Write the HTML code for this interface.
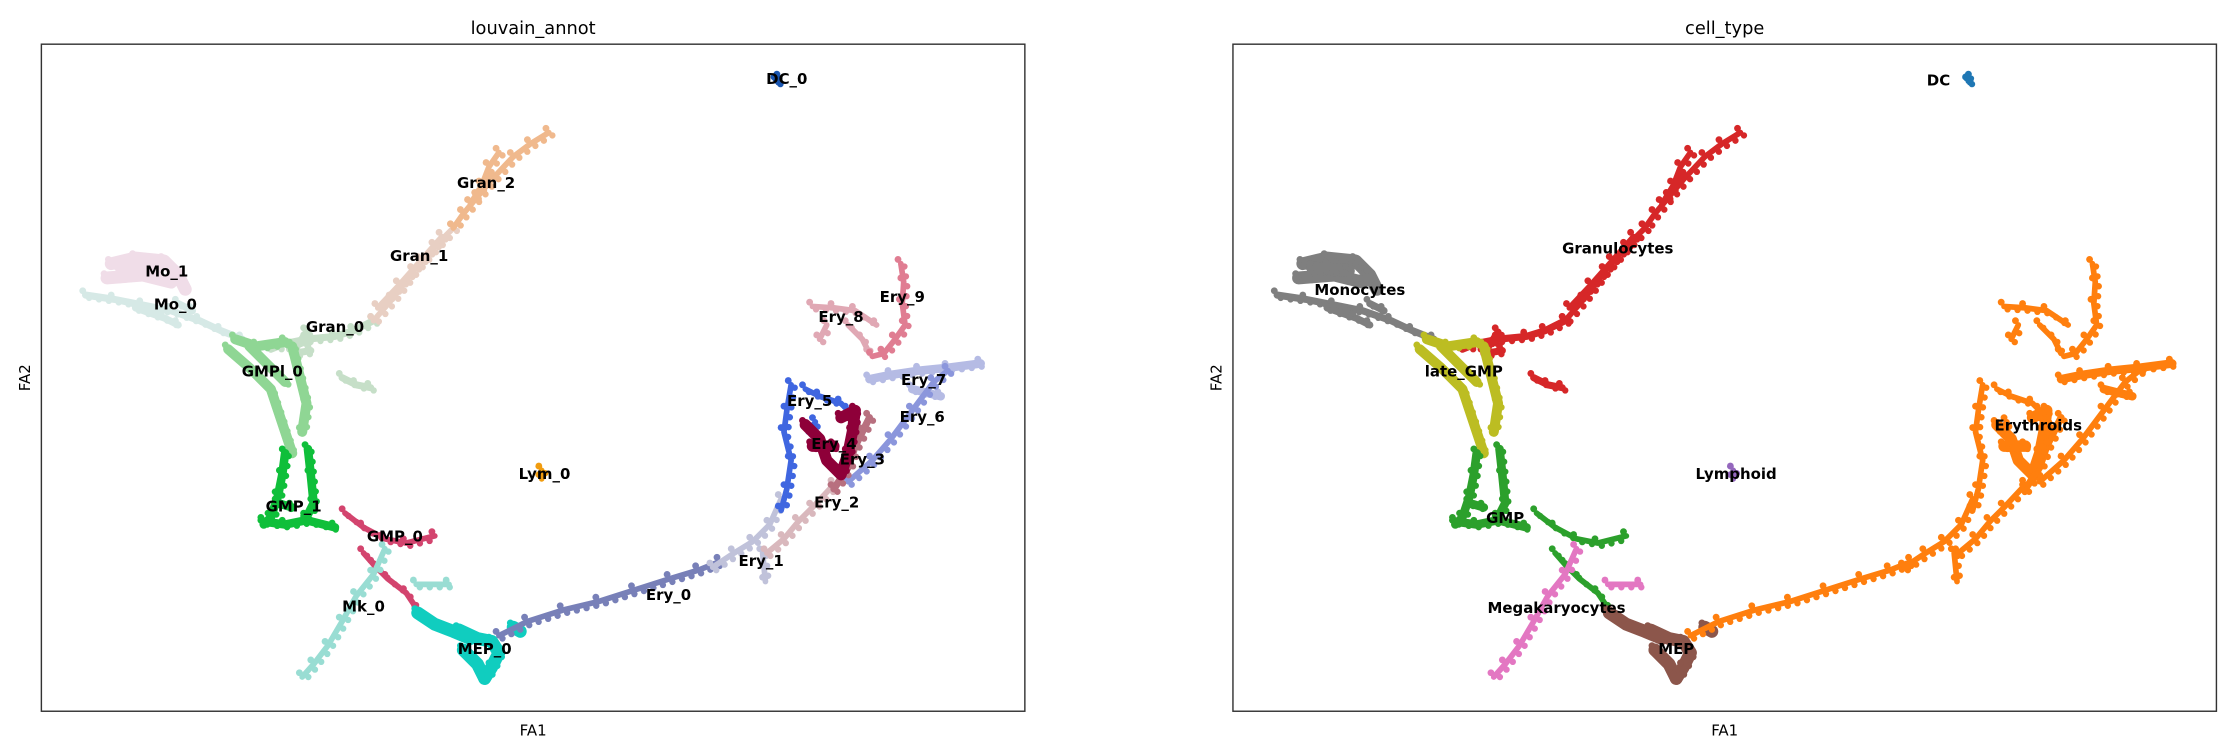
<!DOCTYPE html>
<html><head><meta charset="utf-8"><style>
html,body{margin:0;padding:0;background:#fff;}
svg{display:block;font-family:"DejaVu Sans","Liberation Sans",sans-serif;}
</style></head><body>
<svg id="chart" width="2235" height="752" viewBox="0 0 1568 527.6" xmlns="http://www.w3.org/2000/svg">
<g>
<text x="374" y="24" font-size="12.5" text-anchor="middle">louvain_annot</text>
<text x="374" y="516" font-size="10.5" text-anchor="middle">FA1</text>
<text x="21" y="265" font-size="10.5" text-anchor="middle" transform="rotate(-90 21 265)">FA2</text>
<g id="marksL"></g>
<g id="labelsL"></g>
<rect x="29" y="31" width="690" height="468" fill="none" stroke="#333" stroke-width="1"/>
</g>
<g>
<text x="1210" y="24" font-size="12.5" text-anchor="middle">cell_type</text>
<text x="1210" y="516" font-size="10.5" text-anchor="middle">FA1</text>
<text x="857" y="265" font-size="10.5" text-anchor="middle" transform="rotate(-90 857 265)">FA2</text>
<g id="marksR"></g>
<g id="labelsR"></g>
<rect x="865" y="31" width="690" height="468" fill="none" stroke="#333" stroke-width="1"/>
</g>
</svg>
<script>
// Embedding domain (FA units)
const fa1Domain = [29, 719];
const fa2Domain = [29, 497];
// louvain clusters, each a list of traced cell tracks [FA1, FA2]
const clusterNames = ["Mo_1","Mo_0","Gran_0","Gran_1","Gran_2","GMPl_0","GMP_1","GMP_0","Mk_0","MEP_0","Ery_0","Ery_1","Ery_2","Ery_8","Ery_9","Ery_7","Ery_6","Ery_5","Ery_3","Ery_4","Lym_0","DC_0"];
const clusterTracks = {
 "DC_0":[[[545,471],[547,473],[546,470]]],
 "Gran_2":[[[385,435],[372,427],[360,418],[345,402],[335,390],[325,378],[318,368]],[[350,421],[343,411],[338,398],[330,385]]],
 "Gran_1":[[[318,368],[305,355],[290,338],[275,318],[262,303]],[[310,362],[295,345],[280,328],[265,312]]],
 "Gran_0":[[[262,303],[248,296],[235,292],[215,290],[200,287],[190,283]],[[240,263],[250,258],[260,256]],[[215,295],[205,280],[218,282]]],
 "Mo_1":[[[78,343],[95,347],[115,345],[125,335],[130,325]],[[75,333],[100,335],[120,330]],[[85,340],[110,338]]],
 "Mo_0":[[[60,321],[80,318],[100,314],[120,310],[140,303],[155,296],[170,290]],[[125,315],[135,310]],[[95,312],[115,305],[125,300]]],
 "GMPl_0":[[[165,290],[180,285],[200,288]],[[160,283],[175,270],[190,255],[195,240],[200,225],[205,210]],[[205,285],[210,265],[215,245],[212,225]],[[175,285],[190,270],[200,260]]],
 "GMP_1":[[[200,210],[198,195],[195,180],[190,165],[185,160]],[[216,213],[218,195],[220,175],[215,165]],[[185,162],[200,160],[215,163],[235,158]],[[195,175],[205,172]]],
 "GMP_0":[[[242,168],[255,158],[270,150],[285,147],[305,152]],[[255,140],[262,132],[272,122],[285,112],[293,100]]],
 "Mk_0":[[[270,143],[262,125],[250,110],[240,92],[230,75],[220,62],[212,53]],[[292,118],[315,118]]],
 "MEP_0":[[[293,98],[305,90],[318,85],[330,80]],[[322,86],[335,80],[345,78],[350,70],[345,60],[340,52]],[[325,72],[335,62],[340,52]],[[360,88],[365,85]]],
 "Ery_0":[[[350,82],[370,92],[395,100],[420,106],[445,114],[470,122],[490,128],[505,134]]],
 "Ery_1":[[[500,130],[515,140],[528,148],[540,160],[548,178]],[[535,140],[537,120]]],
 "Ery_2":[[[538,140],[550,150],[560,162],[570,172],[585,188]]],
 "Ery_3":[[[585,185],[595,200],[600,215],[605,225],[610,235]]],
 "Ery_4":[[[565,230],[575,220],[580,205],[590,195],[595,210],[598,225],[600,240],[590,235]],[[570,215],[585,215]]],
 "Ery_5":[[[555,258],[552,240],[550,225],[555,205],[552,185],[548,170]],[[565,255],[575,250],[590,245],[595,240]],[[567,225],[572,232]]],
 "Ery_6":[[[595,190],[612,205],[625,220],[640,240],[655,260],[665,268]]],
 "Ery_7":[[[610,262],[625,265],[645,268],[665,270],[688,273]],[[640,255],[660,250]]],
 "Ery_8":[[[570,313],[585,312],[600,310],[615,300]],[[575,290],[580,300]],[[595,300],[605,290],[610,280]]],
 "Ery_9":[[[632,343],[634,330],[633,315],[635,300],[628,290],[620,280],[612,278]]],
 "Lym_0":[[[380,198],[380,192]]]
};
const clusterColors = {"DC_0":"#1a56b0","Gran_2":"#f0b98d","Gran_1":"#e8cfc3","Gran_0":"#c6dfc8","Mo_1":"#f0dde8","Mo_0":"#d6e9e6","GMPl_0":"#8fd694","GMP_1":"#0fbf3a","GMP_0":"#d3446e","Mk_0":"#99ddd3","MEP_0":"#10cdbf","Ery_0":"#7880b8","Ery_1":"#c0c2da","Ery_2":"#d9b8bd","Ery_3":"#b8707f","Ery_4":"#8e0039","Ery_5":"#3f66e0","Ery_6":"#8b96dc","Ery_7":"#b5bbe4","Ery_8":"#e0a8b4","Ery_9":"#e07d92","Lym_0":"#f19c0f"};
const clusterCellType = {"DC_0":"DC","Gran_2":"Granulocytes","Gran_1":"Granulocytes","Gran_0":"Granulocytes","Mo_1":"Monocytes","Mo_0":"Monocytes","GMPl_0":"late_GMP","GMP_1":"GMP","GMP_0":"GMP","Mk_0":"Megakaryocytes","MEP_0":"MEP","Ery_0":"Erythroids","Ery_1":"Erythroids","Ery_2":"Erythroids","Ery_3":"Erythroids","Ery_4":"Erythroids","Ery_5":"Erythroids","Ery_6":"Erythroids","Ery_7":"Erythroids","Ery_8":"Erythroids","Ery_9":"Erythroids","Lym_0":"Lymphoid"};
const cellTypeColors = {"DC":"#1f77b4","Granulocytes":"#d62728","Monocytes":"#7f7f7f","late_GMP":"#bcbd22","GMP":"#2ca02c","Megakaryocytes":"#e377c2","MEP":"#8c564b","Erythroids":"#ff7f0e","Lymphoid":"#9467bd"};
const clusterWidths = {"Mo_1":9,"GMPl_0":7,"MEP_0":9,"Ery_4":8,"Ery_7":6,"GMP_1":6,"Gran_0":5,"Mo_0":5,"Ery_3":5};
// labels [name, FA1, FA2]
const louvainLabels = [["DC_0",552,473],["Gran_2",341,400],["Gran_1",294,349],["Mo_1",117,338],["Mo_0",123,315],["Gran_0",235,299],["GMPl_0",191,268],["Lym_0",382,196],["GMP_1",206,173],["GMP_0",277,152],["Ery_9",633,320],["Ery_8",590,306],["Ery_7",648,262],["Ery_5",568,247],["Ery_6",647,236],["Ery_4",585,217],["Ery_3",605,206],["Ery_2",587,176],["Ery_1",534,135],["Ery_0",469,111],["Mk_0",255,103],["MEP_0",340,73]];
const cellTypeLabels = [["DC",524,472],["Granulocytes",299,354],["Monocytes",118,325],["late_GMP",191,268],["Erythroids",594,230],["Lymphoid",382,196],["GMP",220,165],["Megakaryocytes",256,102],["MEP",340,73]];

const NS="http://www.w3.org/2000/svg";
function xs(v, ox){ return ox + (v - fa1Domain[0]) / (fa1Domain[1]-fa1Domain[0]) * 690; }
function ys(v){ return 499 - (v - fa2Domain[0]) / (fa2Domain[1]-fa2Domain[0]) * 468; }
function draw(gid, ox, colorOf){
  const g=document.getElementById(gid);
  clusterNames.forEach(name=>{
    const w = clusterWidths[name] || 4;
    clusterTracks[name].forEach(tr=>{
      const pts = tr.map(p=>xs(p[0],ox).toFixed(1)+","+ys(p[1]).toFixed(1)).join(" ");
      const pl=document.createElementNS(NS,"polyline");
      
      
      pl.setAttribute("points", tr.length>1?pts:pts+" "+pts);
      pl.setAttribute("fill","none");
      pl.setAttribute("stroke",colorOf(name));
      pl.setAttribute("stroke-width",w);
      pl.setAttribute("stroke-linecap","round");
      pl.setAttribute("stroke-linejoin","round");
      g.appendChild(pl);
      const dl=document.createElementNS(NS,"polyline");
      
      
      dl.setAttribute("points", tr.map(p=>xs(p[0]+2.5,ox).toFixed(1)+","+ys(p[1]-2).toFixed(1)).join(" "));
      dl.setAttribute("fill","none");
      dl.setAttribute("stroke",colorOf(name));
      dl.setAttribute("stroke-width",4.5);
      dl.setAttribute("stroke-linecap","round");
      dl.setAttribute("stroke-dasharray","0 7");
      g.appendChild(dl);
      tr.forEach(p=>{
        const c=document.createElementNS(NS,"circle");
        
        
        c.setAttribute("cx",xs(p[0]-2,ox)); c.setAttribute("cy",ys(p[1]+3));
        c.setAttribute("r",2.4); c.setAttribute("fill",colorOf(name));
        g.appendChild(c);
      });
    });
  });
}
function labels(gid, ox, arr){
  const g=document.getElementById(gid);
  arr.forEach(l=>{
    const t=document.createElementNS(NS,"text");
    
    
    t.setAttribute("x",xs(l[1],ox)); t.setAttribute("y",ys(l[2])+4);
    t.setAttribute("text-anchor","middle"); t.setAttribute("font-size","10.5");
    t.setAttribute("font-weight","bold");
    t.textContent=l[0]; g.appendChild(t);
  });
}
draw("marksL",29,n=>clusterColors[n]);
draw("marksR",865,n=>cellTypeColors[clusterCellType[n]]);
labels("labelsL",29,louvainLabels);
labels("labelsR",865,cellTypeLabels);
</script>
</body></html>
